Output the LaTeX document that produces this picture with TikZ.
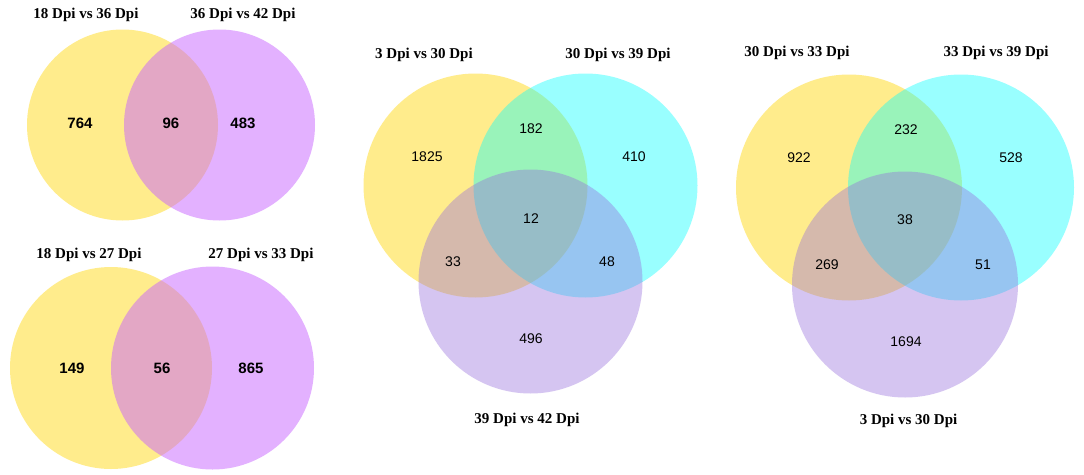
\documentclass[tikz,border=0pt]{standalone}
\usepackage{fontspec}
\setmainfont{Liberation Serif}
\newfontfamily\numfont{Liberation Sans}
\begin{document}
\begin{tikzpicture}[x=1pt,y=-1pt,
  ttl/.style={font=\fontsize{15}{18}\selectfont\bfseries, inner sep=0pt},
  nbold/.style={font=\numfont\fontsize{15}{18}\selectfont\bfseries, inner sep=0pt},
  nreg/.style={font=\numfont\fontsize{14}{17}\selectfont, inner sep=0pt},
  yel/.style={fill={rgb,255:red,255;green,215;blue,0}, fill opacity=0.45},
  vio/.style={fill={rgb,255:red,200;green,100;blue,255}, fill opacity=0.5},
  cya/.style={fill={rgb,255:red,0;green,255;blue,255}, fill opacity=0.4},
  lav/.style={fill={rgb,255:red,150;green,110;blue,220}, fill opacity=0.4}]
\fill[white] (0,0) rectangle (1084,474);
\useasboundingbox (0,0) rectangle (1084,474);
% top-left
\fill[yel] (122.5,125) circle (95.5);
\fill[vio] (219.5,125) circle (95.5);
\node[ttl] (t1) at (86,15) {18 Dpi vs 36 Dpi};
\node[ttl] (t2) at (243,15) {36 Dpi vs 42 Dpi};
\node[nbold] (a1) at (80,123) {764};
\node[nbold] (a2) at (171,123) {96};
\node[nbold] (a3) at (243,123) {483};
% bottom-left
\fill[yel] (111,368) circle (101);
\fill[vio] (212.5,368) circle (101.5);
\node[ttl] (t3) at (89,255) {18 Dpi vs 27 Dpi};
\node[ttl] (t4) at (261,255) {27 Dpi vs 33 Dpi};
\node[nbold] (b1) at (72,368) {149};
\node[nbold] (b2) at (162,368) {56};
\node[nbold] (b3) at (251,368) {865};
% middle
\fill[yel] (475.5,185.5) circle (112);
\fill[cya] (585.5,185.5) circle (112);
\fill[lav] (530.5,281.5) circle (112);
\node[ttl] (t5) at (424,55) {3 Dpi vs 30 Dpi};
\node[ttl] (t6) at (618,55) {30 Dpi vs 39 Dpi};
\node[ttl] (t7) at (527,420) {39 Dpi vs 42 Dpi};
\node[nreg] (c1) at (427,157) {1825};
\node[nreg] (c2) at (531,129) {182};
\node[nreg] (c3) at (634,157) {410};
\node[nreg] (c4) at (531,219) {12};
\node[nreg] (c5) at (453,262) {33};
\node[nreg] (c6) at (607,262) {48};
\node[nreg] (c7) at (531,339) {496};
% right
\fill[yel] (849,187.5) circle (113);
\fill[cya] (961,187.5) circle (113);
\fill[lav] (905,284.5) circle (113);
\node[ttl] (t8) at (797,53) {30 Dpi vs 33 Dpi};
\node[ttl] (t9) at (996,53) {33 Dpi vs 39 Dpi};
\node[ttl] (t10) at (908.5,421) {3 Dpi vs 30 Dpi};
\node[nreg] (d1) at (799,158) {922};
\node[nreg] (d2) at (906,130) {232};
\node[nreg] (d3) at (1011,158) {528};
\node[nreg] (d4) at (905,220) {38};
\node[nreg] (d5) at (827,265) {269};
\node[nreg] (d6) at (983,265) {51};
\node[nreg] (d7) at (906,342) {1694};
\end{tikzpicture}
\end{document}
